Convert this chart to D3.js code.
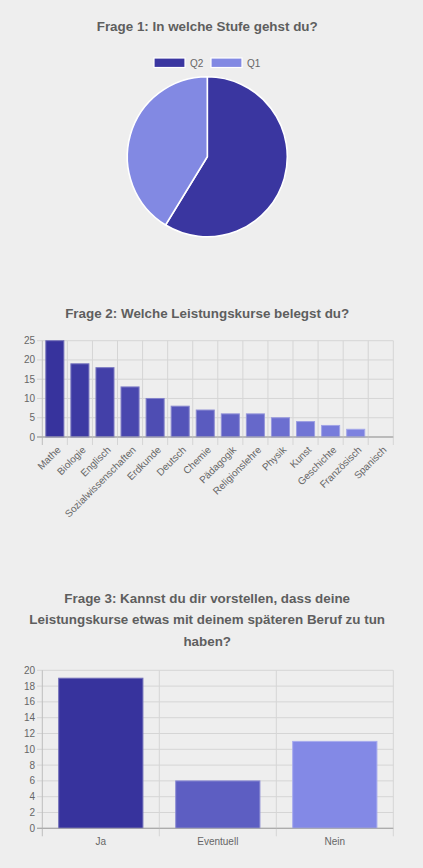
<!DOCTYPE html>
<html>
<head>
<meta charset="utf-8">
<script src="https://cdn.jsdelivr.net/npm/d3@7"></script>
<style>
html,body{margin:0;padding:0;background:#eeeeee;}
svg{display:block;font-family:"Liberation Sans",Arial,sans-serif;}
</style>
</head>
<body>
<svg id="c" width="423" height="868"></svg>
<script>
// ---- Data ----
const pieTitle = "Frage 1: In welche Stufe gehst du?";
const pieLabels = ["Q2", "Q1"];
const pieValues = [37, 26];
const pieColors = ["#3a36a0", "#8289e3"];

const lkTitle = "Frage 2: Welche Leistungskurse belegst du?";
const lkCategories = ["Mathe","Biologie","Englisch","Sozialwissenschaften","Erdkunde","Deutsch","Chemie","Pädagogik","Religionslehre","Physik","Kunst","Geschichte","Französisch","Spanisch"];
const lkValues = [25,19,18,13,10,8,7,6,6,5,4,3,2,0];
const lkTicks = [0,5,10,15,20,25];

const berufTitle = ["Frage 3: Kannst du dir vorstellen, dass deine","Leistungskurse etwas mit deinem späteren Beruf zu tun","haben?"];
const berufCategories = ["Ja","Eventuell","Nein"];
const berufValues = [19,6,11];
const berufTicks = [0,2,4,6,8,10,12,14,16,18,20];

const darkC = "#37339d", lightC = "#8389e6";

const svg = d3.select("#c");
const titleColor = "#5e5e5e", tickColor = "#666", gridColor = "#d5d5d5", axisColor = "#bdbdbd", zeroColor = "#a9a9a9";

function title(lines, y0, lh){
  lines.forEach((t,i)=>{
    svg.append("text").attr("x",207.2).attr("y",y0+i*lh).attr("text-anchor","middle")
      .attr("font-size",13.4).attr("font-weight","bold").attr("fill",titleColor).text(t);
  });
}

// ---- Chart 1: pie ----
title([pieTitle], 31.3, 0);
const legendItems = [{x:154},{x:211}];
pieLabels.forEach((l,i)=>{
  const g = svg.append("g");
  g.append("rect").attr("x",legendItems[i].x).attr("y",58).attr("width",31).attr("height",9.5)
    .attr("fill",pieColors[i]).attr("stroke","#fff").attr("stroke-width",1.2);
  g.append("text").attr("x",legendItems[i].x+36).attr("y",66.5).attr("font-size",10).attr("fill",tickColor).text(l);
});
const pie = d3.pie().sort(null).value(d=>d)(pieValues);
const arc = d3.arc().innerRadius(0).outerRadius(80);
svg.append("g").attr("transform","translate(207.3,156.7)").selectAll("path").data(pie).join("path")
  .attr("d",arc).attr("fill",(d,i)=>pieColors[i]).attr("stroke","#fff").attr("stroke-width",1.6);

// ---- generic bar chart ----
function barChart(cats, vals, ticks, yTop, yBottom, colorFn, rotate){
  const x = d3.scaleBand().domain(cats).range([42.3,393.3]);
  const y = d3.scaleLinear().domain([0,d3.max(ticks)]).range([yBottom,yTop]);
  const g = svg.append("g");
  ticks.forEach(t=>{
    g.append("line").attr("x1",37).attr("x2",393.3).attr("y1",y(t)).attr("y2",y(t))
      .attr("stroke", t===0?zeroColor:gridColor).attr("stroke-width",1);
  });
  const bounds = cats.map(c=>x(c)).concat([393.3]);
  bounds.forEach((b,i)=>{
    g.append("line").attr("x1",b).attr("x2",b).attr("y1",yTop).attr("y2",yBottom+8)
      .attr("stroke", i===0?axisColor:gridColor).attr("stroke-width",1);
  });
  ticks.forEach(t=>{
    g.append("text").attr("x",35).attr("y",y(t)).attr("dy","0.35em").attr("text-anchor","end")
      .attr("font-size",10).attr("fill",tickColor).text(t);
  });
  const bw = x.bandwidth()*0.72;
  g.selectAll("rect.bar").data(cats).join("rect").attr("class","bar")
    .attr("x",c=>x(c)+(x.bandwidth()-bw)/2).attr("width",bw)
    .attr("y",(c,i)=>y(vals[i])).attr("height",(c,i)=>y(0)-y(vals[i]))
    .attr("fill",(c,i)=>colorFn(i))
    .attr("stroke",(c,i)=>d3.interpolateRgb(colorFn(i),"#ffffff")(0.3)).attr("stroke-width",(c,i)=>vals[i]>0?1:0);
  g.append("line").attr("x1",37).attr("x2",393.3).attr("y1",y(0)).attr("y2",y(0)).attr("stroke",zeroColor);
  cats.forEach(c=>{
    const cx = x(c)+x.bandwidth()/2;
    if(rotate){
      g.append("text").attr("transform",`translate(${cx+4},${yBottom+11}) rotate(-45)`)
        .attr("text-anchor","end").attr("dy","0.35em").attr("font-size",10).attr("fill",tickColor).text(c);
    } else {
      g.append("text").attr("x",cx).attr("y",yBottom+13.5).attr("dy","0.35em").attr("text-anchor","middle")
        .attr("font-size",10).attr("fill",tickColor).text(c);
    }
  });
}

// ---- Chart 2 ----
title([lkTitle], 318, 0);
barChart(lkCategories, lkValues, lkTicks, 340.7, 437, i=>d3.interpolateRgb(darkC,lightC)(i/(lkCategories.length-1)), true);

// ---- Chart 3 ----
title(berufTitle, 602.5, 21.8);
barChart(berufCategories, berufValues, berufTicks, 670.3, 828.3, i=>d3.interpolateRgb(darkC,lightC)(i/(berufCategories.length-1)), false);
</script>
</body>
</html>
